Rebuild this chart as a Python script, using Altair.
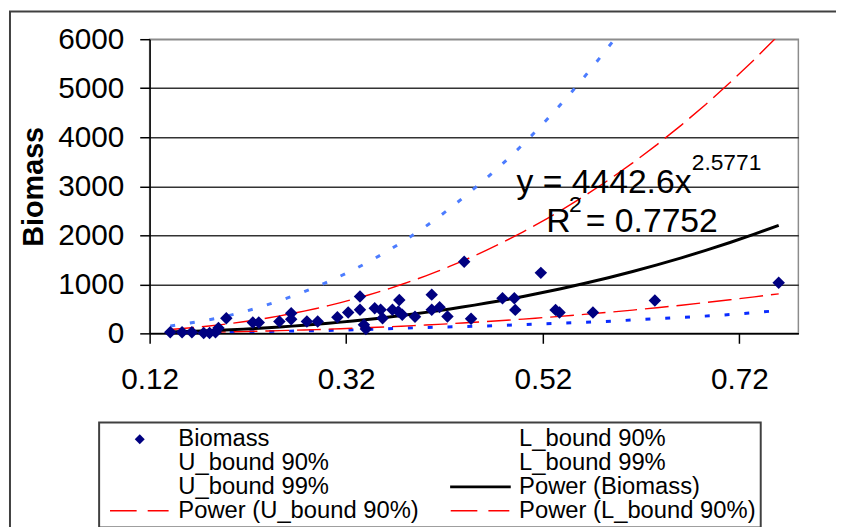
import altair as alt
import pandas as pd

# ---------------- data ----------------
bio_x = [0.141, 0.153, 0.163, 0.175, 0.181, 0.187, 0.190, 0.198, 0.225, 0.231, 0.252,
         0.264, 0.264, 0.280, 0.291, 0.311, 0.322, 0.334, 0.334, 0.338, 0.340, 0.349,
         0.355, 0.357, 0.367, 0.373, 0.374, 0.377, 0.390, 0.407, 0.407, 0.415, 0.423,
         0.440, 0.447, 0.479, 0.491, 0.492, 0.518, 0.533, 0.537, 0.571, 0.634, 0.760]
bio_y = [23, 23, 23, 6, 6, 23, 110, 310, 220, 220, 243,
         410, 290, 243, 243, 330, 425, 750, 480, 176, 90, 513,
         480, 310, 480, 445, 680, 378, 340, 790, 480, 535, 344,
         1460, 300, 716, 716, 479, 1234, 479, 425, 425, 668, 1031]

u90_x = [0.14, 0.20, 0.27, 0.30, 0.378, 0.44, 0.50, 0.60, 0.70, 0.757]
u90_y = [77, 194, 445, 551, 1019, 1490, 2058, 3293, 4902, 6000]

l90_x = [0.14, 0.20, 0.26, 0.30, 0.36, 0.43, 0.47, 0.51, 0.55, 0.60, 0.66, 0.71, 0.76]
l90_y = [15, 32, 52, 72, 125, 210, 262, 315, 390, 445, 580, 685, 817]

u99_x = [0.141, 0.20, 0.25, 0.30, 0.35, 0.40, 0.45, 0.50, 0.55, 0.60]
u99_y = [150, 360, 650, 1040, 1540, 2170, 2950, 3860, 4940, 6180]

l99_x = [0.141, 0.20, 0.28, 0.34, 0.40, 0.46, 0.52, 0.58, 0.64, 0.70, 0.757]
l99_y = [15, 28, 52, 78, 120, 150, 195, 240, 305, 370, 460]

legend_names = ["Biomass", "U_bound 90%", "U_bound 99%", "Power (U_bound 90%)",
                "L_bound 90%", "L_bound 99%", "Power (Biomass)", "Power (L_bound 90%)"]

eq_text = ["y = 4442.6x", "R", "= 0.7752"]
eq_x = [0.4933, 0.5235, 0.5638]
eq_y = [2869, 2061, 2061]
sup_text = ["2.5771", "2"]
sup_x = [0.6715, 0.5467]
sup_y = [3330, 2485]

x_ticks = [0.12, 0.32, 0.52, 0.72]
y_ticks = [0, 1000, 2000, 3000, 4000, 5000, 6000]

# ---------------- styling ----------------
FONT = "Liberation Sans"
diamond = "M0,-0.42L0.42,0L0,0.42L-0.42,0Z"
solid_swatch = "M-2.55,-0.12H2.55V0.12H-2.55Z"
dash_swatch = "M-2.5,-0.065H-0.26V0.065H-2.5Z M0.67,-0.065H2.43V0.065H0.67Z"
legend_colors = ["#000080", "transparent", "transparent", "#FF0000",
                 "transparent", "transparent", "#000000", "#FF0000"]
legend_shapes = [diamond, diamond, diamond, dash_swatch,
                 diamond, diamond, solid_swatch, dash_swatch]

bio_df = pd.DataFrame({"x": bio_x, "y": bio_y, "series": "Biomass"})
u90_df = pd.DataFrame({"x": u90_x, "y": u90_y})
l90_df = pd.DataFrame({"x": l90_x, "y": l90_y})
u99_df = pd.DataFrame({"x": u99_x, "y": u99_y})
l99_df = pd.DataFrame({"x": l99_x, "y": l99_y})
eq_df = pd.DataFrame({"x": eq_x, "y": eq_y, "t": eq_text})
sup_df = pd.DataFrame({"x": sup_x, "y": sup_y, "t": sup_text})

xs = alt.Scale(domain=[0.12, 0.78], nice=False, zero=False)
ys = alt.Scale(domain=[0, 6000], nice=False)

x_axis = alt.Axis(values=x_ticks, format=".2f", grid=False, title=None,
                  labelFont=FONT, labelFontSize=30, labelColor="black",
                  labelPadding=22, labelFlush=False, labelOverlap=False,
                  tickSize=10, tickColor="black", tickWidth=1.5,
                  domainColor="black", domainWidth=1.5)
y_axis = alt.Axis(values=y_ticks, format="d", title="Biomass",
                  titleFont=FONT, titleFontSize=29, titleFontWeight="bold",
                  titleColor="black", titlePadding=9,
                  labelFont=FONT, labelFontSize=30, labelColor="black",
                  labelPadding=16, labelFlush=False, labelOverlap=False,
                  tickSize=10, tickColor="black", tickWidth=1.5,
                  domainColor="black", domainWidth=1.5,
                  gridColor={"condition": {"test": "datum.value === 6000", "value": "#8c8c8c"},
                             "value": "#333333"},
                  gridWidth=1.5)

X = alt.X("x:Q", scale=xs, axis=x_axis)
Y = alt.Y("y:Q", scale=ys, axis=y_axis)

leg = alt.Legend(orient="none", legendX=-51, legendY=387, columns=2,
                 columnPadding=26, rowPadding=0, symbolSize=576,
                 symbolOffset=24, labelOffset=27, padding=5,
                 strokeColor="#404040", fillColor="white",
                 labelFont=FONT, labelFontSize=24, labelColor="black",
                 labelLimit=400, title=None, symbolStrokeWidth=0)

frame = alt.Chart(alt.Data(values=[{}])).mark_rect(
    fill="transparent", stroke="#404040", strokeWidth=2
).encode(x=alt.value(-141), x2=alt.value(760), y=alt.value(-28), y2=alt.value(560))

u99 = alt.Chart(u99_df).mark_line(color="#4C7CFF", strokeWidth=3, strokeDash=[5, 15],
                                  interpolate="monotone", clip=True).encode(x=X, y=Y)
l99 = alt.Chart(l99_df).mark_line(color="#0A2BFF", strokeWidth=3, strokeDash=[5, 15],
                                  interpolate="monotone", clip=True).encode(x=X, y=Y)
u90 = alt.Chart(u90_df).transform_regression(
    "x", "y", method="pow", extent=[0.141, 0.76]
).mark_line(color="#FF0000", strokeWidth=1.4, strokeDash=[24, 8], clip=True).encode(x=X, y=Y)
l90 = alt.Chart(l90_df).transform_regression(
    "x", "y", method="pow", extent=[0.141, 0.76]
).mark_line(color="#FF0000", strokeWidth=1.4, strokeDash=[24, 8], clip=True).encode(x=X, y=Y)
fit = alt.Chart(bio_df).transform_regression(
    "x", "y", method="pow", extent=[0.141, 0.76]
).mark_line(color="black", strokeWidth=3, clip=True).encode(x=X, y=Y)

pts = alt.Chart(bio_df).mark_point(filled=True, size=900, opacity=1).encode(
    x=X, y=Y,
    color=alt.Color("series:N", scale=alt.Scale(domain=legend_names, range=legend_colors), legend=leg),
    shape=alt.Shape("series:N", scale=alt.Scale(domain=legend_names, range=legend_shapes), legend=leg),
)

eq = alt.Chart(eq_df).mark_text(font=FONT, fontSize=34, color="black", align="left",
                                baseline="alphabetic").encode(x=X, y=Y, text="t:N")
sup = alt.Chart(sup_df).mark_text(font=FONT, fontSize=23, color="black", align="left",
                                  baseline="alphabetic").encode(x=X, y=Y, text="t:N")

chart = alt.layer(frame, u99, l99, u90, l90, fit, pts, eq, sup).properties(
    width=655, height=297,
    padding={"left": 143, "top": 29, "right": 38, "bottom": 193},
    autosize=alt.AutoSizeParams(type="none"),
    background="white",
).configure_view(stroke="#8c8c8c", strokeWidth=1.5).configure_legend(strokeWidth=2)

chart.save("out.html", embed_options={"renderer": "svg", "actions": False})
